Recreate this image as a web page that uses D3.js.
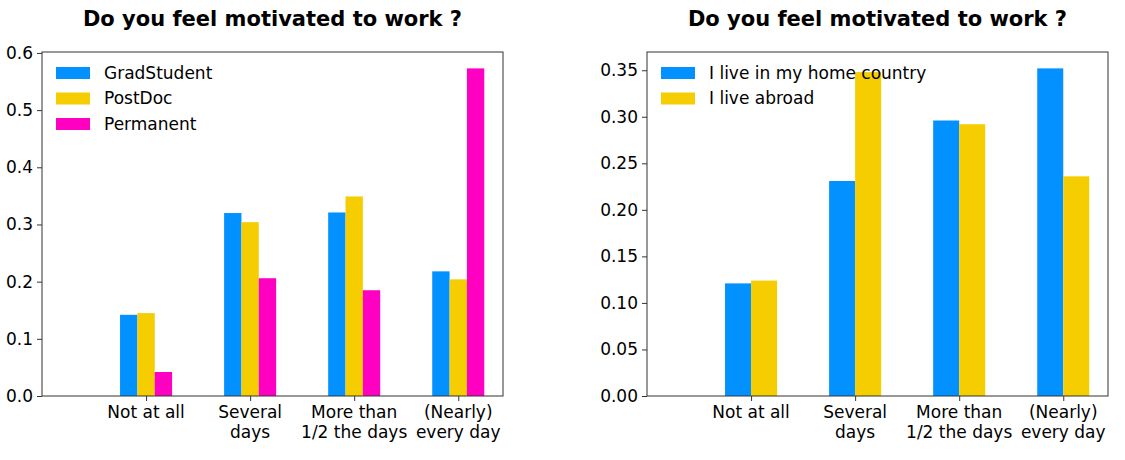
<!DOCTYPE html>
<html>
<head>
<meta charset="utf-8">
<script src="https://cdn.jsdelivr.net/npm/d3@7"></script>
<style>
  body { margin: 0; background: #fff; }
  text { font-family: "DejaVu Sans", sans-serif; fill: #000; }
</style>
</head>
<body>
<div id="chart"></div>
<script>
// categories (position 0 is an empty slot in the original)
var categories = ["Not at all", "Several\ndays", "More than\n1/2 the days", "(Nearly)\nevery day"];

// left panel: by position
var positionNames = ["GradStudent", "PostDoc", "Permanent"];
var gradStudent = [0.142, 0.320, 0.321, 0.218];
var postDoc = [0.145, 0.304, 0.349, 0.204];
var permanent = [0.042, 0.206, 0.185, 0.573];
var leftTicks = [0.0, 0.1, 0.2, 0.3, 0.4, 0.5, 0.6];

// right panel: by where you live
var livingNames = ["I live in my home country", "I live abroad"];
var homeCountry = [0.121, 0.231, 0.296, 0.352];
var abroad = [0.124, 0.348, 0.292, 0.236];
var rightTicks = [0.00, 0.05, 0.10, 0.15, 0.20, 0.25, 0.30, 0.35];

var colors = ["#0291ff", "#f5cd00", "#ff00c3"];
var title = "Do you feel motivated to work ?";

var svg = d3.select("#chart").append("svg")
  .attr("width", 1125)
  .attr("height", 460);

function drawPanel(left, names, series, ticks, tickFmt) {
  var top = 52, width = 461, height = 344;
  var g = svg.append("g").attr("transform", "translate(" + left + "," + top + ")");

  var maxVal = d3.max(series, function(s) { return d3.max(s); });
  var x = d3.scaleLinear().domain([0, 4.43]).range([0, width]);
  var y = d3.scaleLinear().domain([0, maxVal * 1.05]).range([height, 0]);

  var groupWidth = 0.5;
  var barW = groupWidth / series.length;

  series.forEach(function(values, si) {
    g.selectAll("rect.s" + si)
      .data(values)
      .enter().append("rect")
      .attr("class", "s" + si)
      .attr("x", function(d, i) { return x(i + 1 - groupWidth / 2 + si * barW); })
      .attr("width", x(barW) - x(0))
      .attr("y", function(d) { return y(d); })
      .attr("height", function(d) { return height - y(d); })
      .attr("fill", colors[si]);
  });

  // y axis
  var yAxis = d3.axisLeft(y).tickValues(ticks).tickFormat(d3.format(tickFmt)).tickSize(5).tickPadding(4);
  var ya = g.append("g").call(yAxis);
  ya.select(".domain").remove();
  ya.selectAll("line").attr("stroke", "#333");
  ya.selectAll("text").style("font-size", "17px").style("font-family", "DejaVu Sans");

  // x axis
  var xAxis = d3.axisBottom(x).tickValues([1, 2, 3, 4]).tickFormat("").tickSize(5);
  var xa = g.append("g").attr("transform", "translate(0," + height + ")").call(xAxis);
  xa.select(".domain").remove();
  xa.selectAll("line").attr("stroke", "#333");

  categories.forEach(function(c, i) {
    var lines = c.split("\n");
    var t = g.append("text")
      .attr("x", x(i + 1))
      .attr("y", height + 22)
      .attr("text-anchor", "middle")
      .style("font-size", "17px");
    lines.forEach(function(l, li) {
      t.append("tspan").attr("x", x(i + 1)).attr("dy", li == 0 ? 0 : 20).text(l);
    });
  });

  // frame
  g.append("rect")
    .attr("x", 0).attr("y", 0)
    .attr("width", width).attr("height", height)
    .attr("fill", "none")
    .attr("stroke", "#333")
    .attr("stroke-width", 1);

  // legend
  names.forEach(function(n, i) {
    g.append("rect")
      .attr("x", 14).attr("y", 15 + i * 25.5)
      .attr("width", 34).attr("height", 12)
      .attr("fill", colors[i]);
    g.append("text")
      .attr("x", 62).attr("y", 21 + i * 25.5)
      .attr("dy", "0.35em")
      .style("font-size", "17px")
      .text(n);
  });

  // title
  svg.append("text")
    .attr("x", left + width / 2)
    .attr("y", 26)
    .attr("text-anchor", "middle")
    .style("font-size", "21px")
    .style("font-weight", "bold")
    .text(title);
}

drawPanel(42, positionNames, [gradStudent, postDoc, permanent], leftTicks, ".1f");
drawPanel(647, livingNames, [homeCountry, abroad], rightTicks, ".2f");
</script>
</body>
</html>
